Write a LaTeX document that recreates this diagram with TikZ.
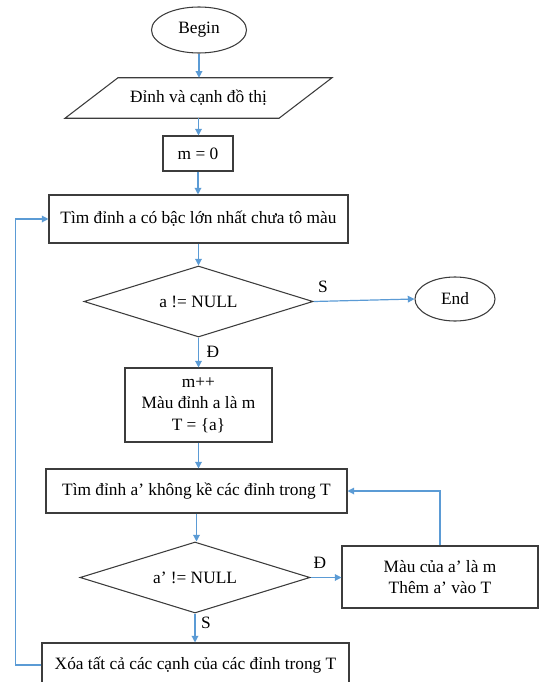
\documentclass[tikz,border=0pt]{standalone}
\usepackage{fontspec}
\setmainfont{Liberation Serif}
\usetikzlibrary{shapes.geometric,arrows.meta}
\newcommand\px{0.75pt}
\definecolor{fleche}{RGB}{91,155,213}
\definecolor{bord}{RGB}{60,60,60}

\begin{document}
\begin{tikzpicture}[x=\px,y=-\px,
  font=\fontsize{13}{16}\selectfont,
  forme/.style={draw=bord,line width=0.8pt,inner sep=2pt,align=center},
  boite/.style={forme,rectangle},
  ovale/.style={forme,ellipse},
  losange/.style={forme,diamond,aspect=3.2},
  lien/.style={draw=fleche,line width=0.9pt,-{Triangle[width=5pt,length=5pt]}},
  etiq/.style={inner sep=0pt}]

  \useasboundingbox (0,0) rectangle (539,682);

  % FORMES
  \node[ovale,minimum width=95*\px,minimum height=46*\px] (begin) at (199,30) {Begin};
  \node[inner sep=0pt,minimum width=213.5*\px,minimum height=40*\px] (input) at (198.5,98) {Đỉnh và cạnh đồ thị};
  \draw[draw=bord,line width=0.8pt] ([xshift=-26.5*\px]input.south west) -- ([xshift=26.5*\px]input.north west)
    -- ([xshift=26.5*\px]input.north east) -- ([xshift=-26.5*\px]input.south east) -- cycle;
  \node[boite,minimum width=70*\px,minimum height=35*\px] (init) at (198,153.5) {m = 0};
  \node[boite,minimum width=299*\px,minimum height=48*\px] (find) at (198.5,219) {Tìm đỉnh a có bậc lớn nhất chưa tô màu};
  \node[losange,minimum width=229*\px,minimum height=71*\px] (test) at (198.5,301.5) {a != NULL};
  \node[ovale,minimum width=80*\px,minimum height=44*\px] (fin) at (455,299) {End};
  \node[boite,minimum width=147*\px,minimum height=74*\px] (color) at (198.5,405) {m++\\Màu đỉnh a là m\\T = \{a\}};
  \node[boite,minimum width=301*\px,minimum height=44*\px] (findb) at (196.5,491) {Tìm đỉnh a’ không kề các đỉnh trong T};
  \node[losange,minimum width=230*\px,minimum height=71*\px] (testb) at (195,577.5) {a’ != NULL};
  \node[boite,minimum width=196*\px,minimum height=62*\px] (add) at (440,577) {Màu của a’ là m\\Thêm a’ vào T};
  \node[boite,minimum width=307*\px,minimum height=44*\px] (clear) at (195.5,665) {Xóa tất cả các cạnh của các đỉnh trong T};

  % ETIQUETTES
  \node[etiq] (s1) at (323,287) {S};
  \node[etiq] (d1) at (213,352) {Đ};
  \node[etiq] (d2) at (320,563) {Đ};
  \node[etiq] (s2) at (206,623) {S};

  % FLECHES
  \draw[lien] (begin.south) -- (begin.south |- input.north);
  \draw[lien] (input.south) -- (input.south |- init.north);
  \draw[lien] (init.south) -- (init.south |- find.north);
  \draw[lien] (find.south) -- (find.south |- test.north);
  \draw[lien] (test.east) -- (fin.west);
  \draw[lien] (test.south) -- (test.south |- color.north);
  \draw[lien] (color.south) -- (color.south |- findb.north);
  \draw[lien] (findb.south) -- (findb.south |- testb.north);
  \draw[lien] (testb.east) -- (testb.east -| add.west);
  \draw[lien] (testb.south) -- (testb.south |- clear.north);
  \draw[lien] (add.north) |- (findb.east);
  \draw[lien] (clear.west) -- ++(-26,0) |- (find.west);
\end{tikzpicture}
\end{document}
